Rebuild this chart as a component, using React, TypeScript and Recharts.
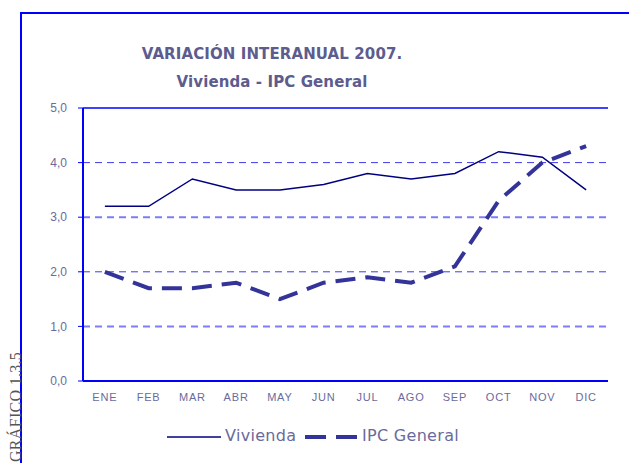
import React from 'react'
import { LineChart, Line, XAxis, YAxis, ReferenceLine } from 'recharts'

const months = ['ENE', 'FEB', 'MAR', 'ABR', 'MAY', 'JUN', 'JUL', 'AGO', 'SEP', 'OCT', 'NOV', 'DIC']
const vivienda = [3.2, 3.2, 3.7, 3.5, 3.5, 3.6, 3.8, 3.7, 3.8, 4.2, 4.1, 3.5]
const ipcGeneral = [2.0, 1.7, 1.7, 1.8, 1.5, 1.8, 1.9, 1.8, 2.1, 3.3, 4.0, 4.3]
const yTicks = [0, 1, 2, 3, 4, 5]
const gridValues = [1, 2, 3, 4]
const boundaryTicks = [0, 1, 2, 3, 4, 5, 6, 7, 8, 9, 10, 11, 12]

const data = months.map((m, i) => ({ mes: m, vivienda: vivienda[i], ipc: ipcGeneral[i] }))

const BLUE = '#0000ff'
const TEXT = '#6a6a9c'

export default function App() {
  return (
    <div style={{ position: 'absolute', left: 0, top: 0, width: 629, height: 463, overflow: 'hidden', background: '#fff' }}>
      {/* outer frame */}
      <div
        style={{
          position: 'absolute',
          left: 20,
          top: 12,
          width: 700,
          height: 600,
          borderLeft: `2px solid ${BLUE}`,
          borderTop: `2px solid ${BLUE}`,
        }}
      />

      <div
        style={{
          position: 'absolute',
          left: 0,
          top: 40,
          width: 544,
          textAlign: 'center',
          fontFamily: '"DejaVu Sans", Verdana, sans-serif',
          fontWeight: 'bold',
          fontSize: 15,
          lineHeight: '28px',
          letterSpacing: 0.1,
          color: '#5c5c8e',
        }}
      >
        <div>VARIACIÓN INTERANUAL 2007.</div>
        <div>Vivienda - IPC General</div>
      </div>

      <svg style={{ position: 'absolute', left: 0, top: 0 }} width={30} height={463}>
        <text
          transform="translate(21,462) rotate(-90)"
          fontFamily='"Liberation Serif", "Times New Roman", serif'
          fontSize={16}
          fill="#555"
          letterSpacing={0.3}
        >
          GRÁFICO 1.3.5
        </text>
      </svg>

      <div style={{ position: 'absolute', left: 0, top: 0 }}>
        <LineChart width={629} height={463} data={data} margin={{ top: 108, right: 21, bottom: 52, left: 0 }}>
          <XAxis
            xAxisId="marks"
            type="number"
            domain={[0, 12]}
            ticks={boundaryTicks}
            tick={false}
            tickSize={4}
            tickLine={{ stroke: BLUE }}
            axisLine={{ stroke: BLUE, strokeWidth: 2 }}
            height={1}
          />
          <XAxis
            xAxisId="months"
            dataKey="mes"
            scale="band"
            tickLine={false}
            axisLine={false}
            tickSize={0}
            tickMargin={11}
            height={29}
            interval={0}
            tick={{ fill: TEXT, fontSize: 11, fontFamily: '"Liberation Sans", Arial, sans-serif', letterSpacing: 0.8 }}
          />
          <YAxis
            domain={[0, 5]}
            ticks={yTicks}
            width={83}
            tickSize={5}
            tickMargin={11}
            interval={0}
            tickFormatter={(v: number) => v.toFixed(1).replace('.', ',')}
            tickLine={{ stroke: BLUE }}
            axisLine={{ stroke: BLUE, strokeWidth: 2 }}
            tick={{ fill: TEXT, fontSize: 12, fontFamily: '"Liberation Sans", Arial, sans-serif' }}
          />
          <YAxis
            yAxisId="right"
            orientation="right"
            domain={[0, 5]}
            width={0}
            tick={false}
            tickLine={false}
            axisLine={{ stroke: '#4d4dff', strokeWidth: 1.5 }}
          />
          {gridValues.map((v) => (
            <ReferenceLine
              key={v}
              xAxisId="months"
              y={v}
              stroke={v % 2 === 0 ? '#3c3cee' : '#7c7cff'}
              strokeWidth={v % 2 === 0 ? 1 : 2}
              strokeDasharray="7 5"
            />
          ))}
          <ReferenceLine xAxisId="months" y={5} stroke={BLUE} strokeWidth={1.5} />
          <Line
            xAxisId="months"
            type="linear"
            dataKey="vivienda"
            stroke="#000080"
            strokeWidth={1.5}
            dot={false}
            isAnimationActive={false}
          />
          <Line
            xAxisId="months"
            type="linear"
            dataKey="ipc"
            stroke="#333399"
            strokeWidth={4}
            strokeDasharray="20 10"
            dot={false}
            isAnimationActive={false}
          />
        </LineChart>
      </div>

      {/* legend */}
      <div
        style={{
          position: 'absolute',
          left: 0,
          top: 426,
          height: 22,
          fontFamily: '"DejaVu Sans", Verdana, sans-serif',
          fontSize: 16,
          color: TEXT,
        }}
      >
        <svg style={{ position: 'absolute', left: 0, top: 0 }} width={629} height={22}>
          <line x1={167} x2={221} y1={11} y2={11} stroke="#000080" strokeWidth={1.5} />
          <line x1={305} x2={326} y1={11} y2={11} stroke="#333399" strokeWidth={4} />
          <line x1={336} x2={357} y1={11} y2={11} stroke="#333399" strokeWidth={4} />
        </svg>
        <span style={{ position: 'absolute', left: 225, top: 0, whiteSpace: 'nowrap', letterSpacing: 0.3 }}>Vivienda</span>
        <span style={{ position: 'absolute', left: 362, top: 0, whiteSpace: 'nowrap', letterSpacing: 0.3 }}>IPC General</span>
      </div>
    </div>
  )
}
